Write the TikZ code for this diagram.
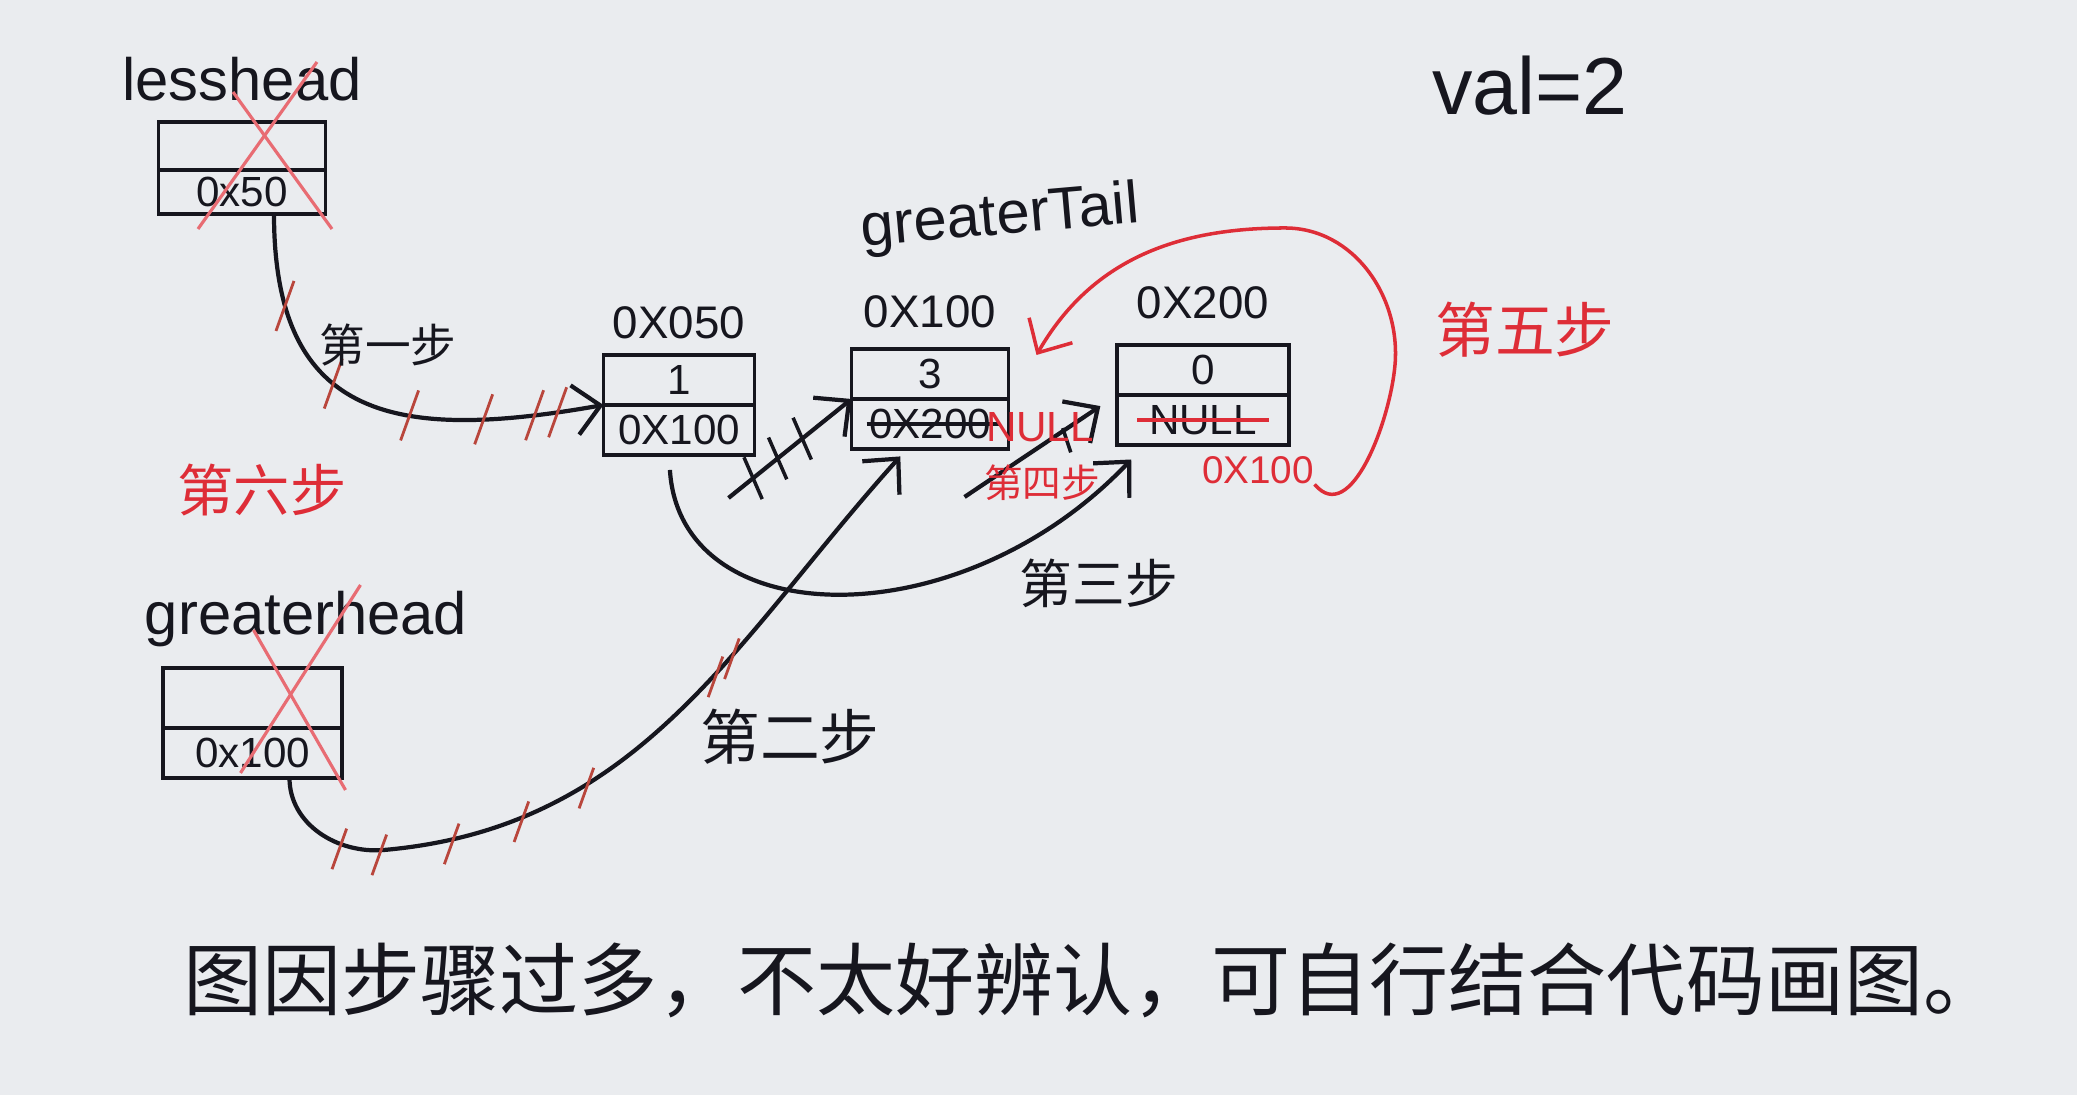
\documentclass[tikz,border=0pt]{standalone}
\usepackage{fontspec}
\setmainfont{Liberation Sans}
\newfontfamily\cjk{Noto Sans CJK SC}
\usepackage{xcolor}
\usetikzlibrary{positioning,arrows.meta,decorations.markings}

\definecolor{paper}{RGB}{234,236,239}
\definecolor{ink}{RGB}{22,22,30}
\definecolor{marker}{RGB}{222,45,55}
\definecolor{tickred}{RGB}{185,70,60}

\begin{document}
\begin{tikzpicture}[
    >={Straight Barb[length=2.6mm,width=5mm]},
    cell/.style={draw=ink, line width=1.1pt, outer sep=0pt, minimum height=5mm, inner sep=1pt, text=ink, font=\fontsize{12}{14}\selectfont},
    addr/.style={inner sep=0pt, text=ink, font=\fontsize{13}{15}\selectfont},
    word/.style={inner sep=0pt, text=ink, font=\fontsize{17}{19}\selectfont},
    steplabel/.style={inner sep=0pt, text=ink, font=\cjk\fontsize{16}{18}\selectfont},
    link/.style={->, draw=ink, line width=1.2pt},
    redlink/.style={->, draw=marker, line width=1pt},
    cross/.style={draw=marker!70, line width=0.9pt},
    redtick/.style={postaction={decorate,decoration={markings,mark=at position #1 with {\pgftransformresetnontranslations \draw[-,tickred,line width=0.8pt] (-0.9mm,-2.5mm) -- (0.9mm,2.5mm);}}}},
    blacktick/.style={postaction={decorate,decoration={markings,mark=at position #1 with {\draw[-,ink,line width=1pt] (-0.6mm,-2.2mm) -- (0.6mm,2.2mm);}}}}
]
    \useasboundingbox (0,0) rectangle (20.77,10.95);
    \fill[paper] (0,0) rectangle (20.77,10.95);

    \node[cell, minimum width=1.67cm, minimum height=4.8mm] (lv) at (2.42,9.49) {};
    \node[cell, minimum width=1.67cm, minimum height=4.4mm, below=0pt of lv] (lp) {0x50};
    \node[word, above=2mm of lv] (lname) {lesshead};

    \node[cell, minimum width=1.79cm, minimum height=6mm] (gv) at (2.525,3.97) {};
    \node[cell, minimum width=1.79cm, below=0pt of gv] (gp) {0x100};
    \node[word] (gname) at (3.06,4.76) {greaterhead};

    \node[cell, minimum width=1.51cm] (av) at (6.79,7.15) {1};
    \node[cell, minimum width=1.51cm, below=0pt of av] (ap) {0X100};
    \node[addr, above=1.5mm of av] (a050) {0X050};

    \node[cell, minimum width=1.57cm] (bv) at (9.30,7.21) {3};
    \node[cell, minimum width=1.57cm, below=0pt of bv] (bp) {0X200};
    \node[addr, above=2mm of bv] (b100) {0X100};

    \node[cell, minimum width=1.72cm] (cv) at (12.03,7.25) {0};
    \node[cell, minimum width=1.72cm, below=0pt of cv] (cp) {NULL};
    \node[addr, above=2.5mm of cv] (c200) {0X200};

    \node[word, rotate=5] (gtail) at (10.00,8.76) {greaterTail};
    \node[inner sep=0pt, text=ink, font=\fontsize{23}{25}\selectfont] (val) at (15.30,10.09) {val=2};

    \draw[cross] ([shift={(-0.44,-0.15)}]lp.south) -- ([shift={(0.75,1.52)}]lp.south);
    \draw[cross] ([shift={(-0.09,1.22)}]lp.south) -- ([shift={(0.9,-0.15)}]lp.south);
    \draw[cross] ([shift={(-0.12,0.05)}]gp.south) -- ([shift={(1.08,1.93)}]gp.south);
    \draw[cross] ([shift={(0.01,1.48)}]gp.south) -- ([shift={(0.93,-0.12)}]gp.south);

    \draw[link, redtick=0.2, redtick=0.4, redtick=0.58, redtick=0.74, redtick=0.85, redtick=0.9]
        ([xshift=3.2mm]lp.south) to[out=-90,in=190,looseness=1.4] (av.south west);
    \node[steplabel, font=\cjk\fontsize{13}{15}\selectfont] (s1) at (3.88,7.50) {第一步};

    \coordinate (bend2) at (3.84,2.45);
    \draw[link, shorten >=1mm, redtick=0.11, redtick=0.16, redtick=0.25, redtick=0.34, redtick=0.43, redtick=0.64, redtick=0.67]
        ([xshift=3.7mm]gp.south) to[out=-90,in=185] (bend2) to[out=5,in=228] ([xshift=-2.3mm]bp.south);
    \node[steplabel, font=\cjk\fontsize{17}{19}\selectfont] (s2) at (7.90,3.58) {第二步};

    \draw[link, shorten <=1.5mm, shorten >=2mm]
        ([xshift=-1mm]ap.south) .. controls +(0.11,-1.8) and +(-1.85,-1.95) .. ([xshift=2.8mm]cp.south west);
    \node[steplabel, font=\cjk\fontsize{15}{17}\selectfont] (s3) at (10.99,5.12) {第三步};

    \draw[link, blacktick=0.2, blacktick=0.4, blacktick=0.6] ([shift={(-0.26,-0.43)}]ap.south east) -- (bv.south west);
    \draw[link, shorten >=2mm, blacktick=0.65] ([shift={(-0.44,-0.48)}]bp.south east) -- (cv.south west);
    \draw[ink, line width=1pt] ([xshift=1.5mm]bp.west) -- ([xshift=-1mm]bp.east);
    \draw[marker, line width=0.9pt] ([xshift=2mm]cp.west) -- ([xshift=-2mm]cp.east);

    \node[inner sep=0pt, text=marker, font=\fontsize{12}{14}\selectfont] (rnull) at (10.40,6.68) {NULL};
    \node[inner sep=0pt, text=marker, font=\cjk\fontsize{11}{13}\selectfont] (s4) at (10.42,6.12) {第四步};
    \node[inner sep=0pt, text=marker, font=\fontsize{11}{13}\selectfont] (r100) at (12.58,6.25) {0X100};

    \draw[redlink] (r100.south east) to[out=-50,in=-95] (13.95,7.3) to[out=85,in=0] (12.85,8.67)
        to[out=180,in=60] ([xshift=2.8mm,yshift=-0.6mm]bv.north east);
    \node[steplabel, text=marker, font=\cjk\fontsize{17}{19}\selectfont] (s5) at (15.25,7.65) {第五步};
    \node[steplabel, text=marker] (s6) at (2.62,6.05) {第六步};

    \node[inner sep=0pt, text=ink, font=\cjk\fontsize{22.5}{26}\selectfont] (note) at (10.93,1.15) {图因步骤过多，不太好辨认，可自行结合代码画图。};
\end{tikzpicture}
\end{document}
